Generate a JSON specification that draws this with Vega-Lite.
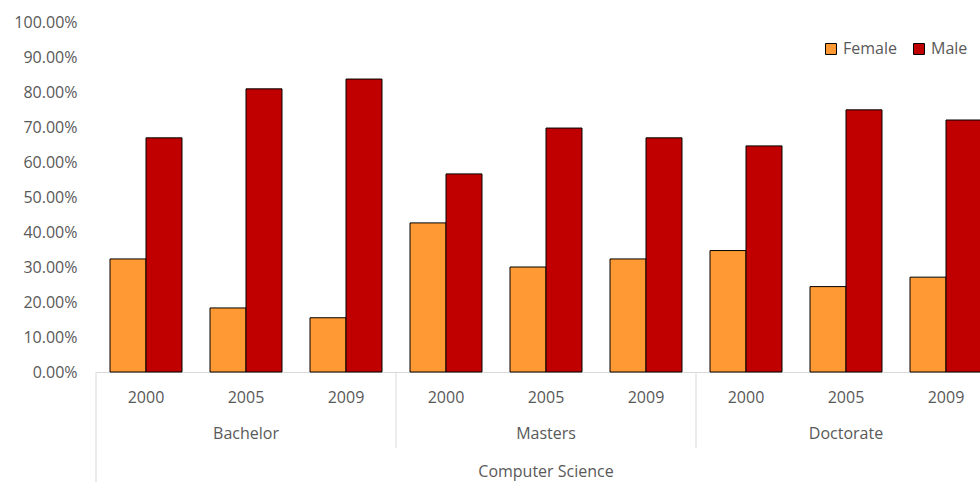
{
  "$schema": "https://vega.github.io/schema/vega-lite/v6.json",
  "autosize": {"type": "none"},
  "padding": {"left": 96, "top": 22, "right": 0, "bottom": 110},
  "width": 900,
  "height": 350,
  "background": "white",
  "config": {
    "view": {"stroke": null},
    "font": "Open Sans",
    "axis": {"labelFont": "Open Sans", "labelColor": "#595959", "labelFontSize": 16, "labelOverlap": false},
    "legend": {"labelFont": "Open Sans", "labelColor": "#595959", "labelFontSize": 16},
    "text": {"font": "Open Sans"}
  },
  "datasets": {
    "bars": [
      {"level": "Bachelor", "year": "2000", "cat": "Bachelor 2000", "sex": "Female", "value": 0.323},
      {"level": "Bachelor", "year": "2000", "cat": "Bachelor 2000", "sex": "Male", "value": 0.669},
      {"level": "Bachelor", "year": "2005", "cat": "Bachelor 2005", "sex": "Female", "value": 0.183},
      {"level": "Bachelor", "year": "2005", "cat": "Bachelor 2005", "sex": "Male", "value": 0.809},
      {"level": "Bachelor", "year": "2009", "cat": "Bachelor 2009", "sex": "Female", "value": 0.155},
      {"level": "Bachelor", "year": "2009", "cat": "Bachelor 2009", "sex": "Male", "value": 0.837},
      {"level": "Masters", "year": "2000", "cat": "Masters 2000", "sex": "Female", "value": 0.426},
      {"level": "Masters", "year": "2000", "cat": "Masters 2000", "sex": "Male", "value": 0.566},
      {"level": "Masters", "year": "2005", "cat": "Masters 2005", "sex": "Female", "value": 0.300},
      {"level": "Masters", "year": "2005", "cat": "Masters 2005", "sex": "Male", "value": 0.697},
      {"level": "Masters", "year": "2009", "cat": "Masters 2009", "sex": "Female", "value": 0.323},
      {"level": "Masters", "year": "2009", "cat": "Masters 2009", "sex": "Male", "value": 0.669},
      {"level": "Doctorate", "year": "2000", "cat": "Doctorate 2000", "sex": "Female", "value": 0.347},
      {"level": "Doctorate", "year": "2000", "cat": "Doctorate 2000", "sex": "Male", "value": 0.646},
      {"level": "Doctorate", "year": "2005", "cat": "Doctorate 2005", "sex": "Female", "value": 0.244},
      {"level": "Doctorate", "year": "2005", "cat": "Doctorate 2005", "sex": "Male", "value": 0.749},
      {"level": "Doctorate", "year": "2009", "cat": "Doctorate 2009", "sex": "Female", "value": 0.271},
      {"level": "Doctorate", "year": "2009", "cat": "Doctorate 2009", "sex": "Male", "value": 0.720}
    ],
    "levels": [
      {"cat": "Bachelor 2005", "label": "Bachelor"},
      {"cat": "Masters 2005", "label": "Masters"},
      {"cat": "Doctorate 2005", "label": "Doctorate"}
    ],
    "field": [
      {"cat": "Masters 2005", "label": "Computer Science"}
    ],
    "outer": [
      {"cat": "Bachelor 2000"}
    ],
    "dividers": [
      {"cat": "Masters 2000"},
      {"cat": "Doctorate 2000"}
    ]
  },
  "layer": [
    {
      "data": {"name": "bars"},
      "mark": {"type": "bar", "stroke": "#000000", "strokeWidth": 1},
      "encoding": {
        "x": {
          "field": "cat",
          "type": "nominal",
          "scale": {
            "domain": ["Bachelor 2000", "Bachelor 2005", "Bachelor 2009", "Masters 2000", "Masters 2005", "Masters 2009", "Doctorate 2000", "Doctorate 2005", "Doctorate 2009"],
            "paddingInner": 0,
            "paddingOuter": 0
          },
          "axis": {
            "title": null,
            "ticks": false,
            "domainColor": "#d9d9d9",
            "domainWidth": 1,
            "labelAngle": 0,
            "labelPadding": 17,
            "labelOverlap": false,
            "labelExpr": "split(datum.value, ' ')[1]"
          }
        },
        "xOffset": {
          "field": "sex",
          "type": "nominal",
          "scale": {"domain": ["Female", "Male"], "paddingInner": 0, "paddingOuter": 0.389}
        },
        "y": {
          "field": "value",
          "type": "quantitative",
          "scale": {"domain": [0, 1], "nice": false},
          "axis": {
            "title": null,
            "format": ".2%",
            "values": [0, 0.1, 0.2, 0.3, 0.4, 0.5, 0.6, 0.7, 0.8, 0.9, 1],
            "grid": false,
            "domain": false,
            "ticks": false,
            "labelOverlap": false,
            "labelPadding": 19
          }
        },
        "color": {
          "field": "sex",
          "type": "nominal",
          "scale": {"domain": ["Female", "Male"], "range": ["#FF9933", "#C00000"]},
          "legend": {
            "title": null,
            "orient": "none",
            "direction": "horizontal",
            "legendX": 727,
            "legendY": 19,
            "symbolType": "square",
            "symbolSize": 120,
            "symbolStrokeColor": "#000000",
            "symbolStrokeWidth": 1,
            "symbolOpacity": 1,
            "labelOffset": 4,
            "columnPadding": 14
          }
        }
      }
    },
    {
      "data": {"name": "outer"},
      "mark": {"type": "rule", "color": "#d9d9d9", "strokeWidth": 1},
      "encoding": {
        "x": {"field": "cat", "type": "nominal", "bandPosition": 0},
        "y": {"datum": 0, "type": "quantitative", "axis": {"title": null, "format": ".2%", "values": [0, 0.1, 0.2, 0.3, 0.4, 0.5, 0.6, 0.7, 0.8, 0.9, 1], "grid": false, "domain": false, "ticks": false, "labelOverlap": false, "labelPadding": 19}},
        "y2": {"datum": -0.33}
      }
    },
    {
      "data": {"name": "dividers"},
      "mark": {"type": "rule", "color": "#d9d9d9", "strokeWidth": 1},
      "encoding": {
        "x": {"field": "cat", "type": "nominal", "bandPosition": 0},
        "y": {"datum": 0, "type": "quantitative", "axis": {"title": null, "format": ".2%", "values": [0, 0.1, 0.2, 0.3, 0.4, 0.5, 0.6, 0.7, 0.8, 0.9, 1], "grid": false, "domain": false, "ticks": false, "labelOverlap": false, "labelPadding": 19}},
        "y2": {"datum": -0.217}
      }
    },
    {
      "data": {"name": "levels"},
      "mark": {"type": "text", "fontSize": 16, "color": "#595959", "baseline": "middle", "align": "center"},
      "encoding": {
        "x": {"field": "cat", "type": "nominal"},
        "y": {"datum": -0.177, "type": "quantitative", "axis": {"title": null, "format": ".2%", "values": [0, 0.1, 0.2, 0.3, 0.4, 0.5, 0.6, 0.7, 0.8, 0.9, 1], "grid": false, "domain": false, "ticks": false, "labelOverlap": false, "labelPadding": 19}},
        "text": {"field": "label"}
      }
    },
    {
      "data": {"name": "field"},
      "mark": {"type": "text", "fontSize": 16, "color": "#595959", "baseline": "middle", "align": "center"},
      "encoding": {
        "x": {"field": "cat", "type": "nominal"},
        "y": {"datum": -0.286, "type": "quantitative", "axis": {"title": null, "format": ".2%", "values": [0, 0.1, 0.2, 0.3, 0.4, 0.5, 0.6, 0.7, 0.8, 0.9, 1], "grid": false, "domain": false, "ticks": false, "labelOverlap": false, "labelPadding": 19}},
        "text": {"field": "label"}
      }
    }
  ]
}
